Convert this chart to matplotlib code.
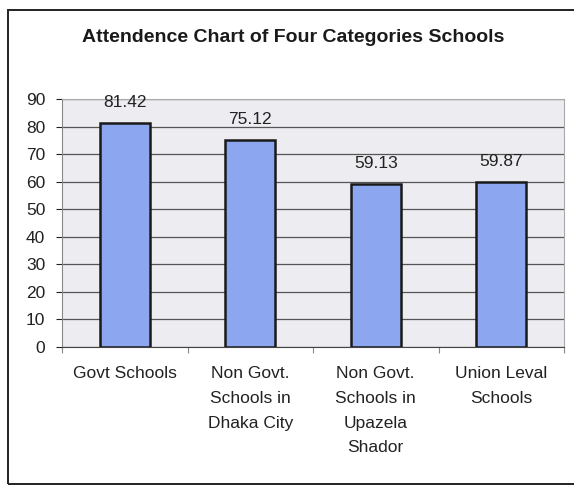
import matplotlib.pyplot as plt
from matplotlib.patches import Rectangle

# data
categories = ['Govt Schools', 'Non Govt.\nSchools in\nDhaka City',
              'Non Govt.\nSchools in\nUpazela\nShador', 'Union Leval\nSchools']
attendance = [81.42, 75.12, 59.13, 59.87]
y_ticks = [0, 10, 20, 30, 40, 50, 60, 70, 80, 90]

plt.rcParams['font.family'] = ['Liberation Sans', 'DejaVu Sans']

fig = plt.figure(figsize=(5.74, 4.86), dpi=100)
fig.patch.set_facecolor('white')

# outer chart border (right side runs off the picture)
fig.patches.append(Rectangle((8 / 574, 2 / 486), 580 / 574, 474 / 486,
                             transform=fig.transFigure, fill=False,
                             edgecolor='#222222', linewidth=1.4))

ax = fig.add_axes([62 / 574, 1 - 347 / 486, 502 / 574, 248 / 486])
ax.set_facecolor('#ececf1')

x = range(len(categories))
ax.bar(x, attendance, width=0.4, color='#8ca6f0',
       edgecolor='#1a1a1a', linewidth=1.8, zorder=3)

for xi, v in zip(x, attendance):
    ax.text(xi, v + 7.3, f'{v:.2f}', ha='center', va='center',
            fontsize=12.5, color='#222222')

ax.set_xlim(-0.5, len(categories) - 0.5)
ax.set_ylim(0, 90)
ax.set_yticks(y_ticks)
ax.yaxis.grid(True, color='#555555', linewidth=0.9, zorder=0)
ax.tick_params(axis='y', length=4, labelsize=12.5, colors='#222222', pad=8)

ax.set_xticks([i - 0.5 for i in range(len(categories) + 1)])
ax.set_xticklabels([])
ax.set_xticks(list(x), minor=True)
ax.set_xticklabels(categories, minor=True, fontsize=12.5, color='#222222',
                   linespacing=1.8, va='top')
ax.tick_params(axis='x', which='major', length=4, color='#888888')
ax.tick_params(axis='x', which='minor', length=0, pad=14)

for side in ['top', 'right']:
    ax.spines[side].set_color('#aaaaaa')
ax.spines['left'].set_color('#888888')
ax.spines['bottom'].set_color('#444444')

fig.text(293 / 574, 1 - 37 / 486, 'Attendence Chart of Four Categories Schools',
         ha='center', va='center', fontsize=14, fontweight='bold',
         color='#1a1a1a')

plt.savefig('out.png', dpi=100)
